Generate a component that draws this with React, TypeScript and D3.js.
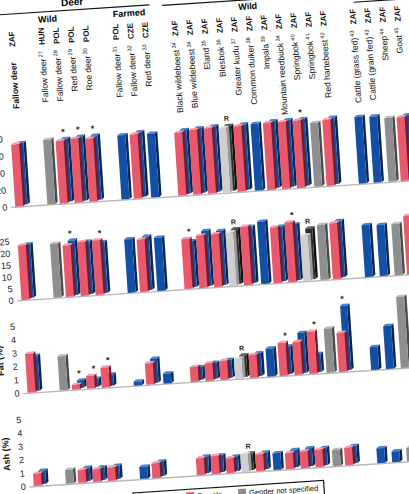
import React from "react";
import * as d3 from "d3";

// ---------- data ----------
const categories = [
  "Fallow deer", "Fallow deer", "Fallow deer", "Red deer", "Roe deer",
  "Fallow deer", "Fallow deer", "Red deer",
  "Black wildebeest", "Blue wildebeest", "Eland", "Blesbok", "Greater kudu",
  "Common duiker", "Impala", "Mountain reedbuck", "Springbok", "Springbok", "Red hartebeest",
  "Cattle (grass fed)", "Cattle (grain fed)", "Sheep", "Goat",
];
const refNumbers = ["", "27", "28", "29", "30", "31", "32", "33", "34", "34", "35", "36", "37", "38", "39", "34", "40", "41", "42", "43", "43", "44", "45"];
const countries = ["ZAF", "HUN", "POL", "POL", "POL", "POL", "CZE", "CZE", "ZAF", "ZAF", "ZAF", "ZAF", "ZAF", "ZAF", "ZAF", "ZAF", "ZAF", "ZAF", "ZAF", "ZAF", "ZAF", "ZAF", "ZAF"];
const groupIndex = [0, 1, 1, 1, 1, 2, 2, 2, 3, 3, 3, 3, 3, 3, 3, 3, 3, 3, 3, 4, 4, 4, 4];

const _ = null;
// Moisture (%)
const moistureFemale = [73, _, 73.5, 75, 74, _, 75.5, _, 74, 76, 77, _, 77, _, 78.5, 78.5, 79, _, 77.5, _, _, _, 75];
const moistureMale = [72.5, _, 74, 75.5, 75.5, 75.5, 76, 75, 75, 76, 77, _, 77, 78.5, 78.5, 78.5, 78.5, _, 78, 78.5, 78, _, 75];
const moistureUnspecified = [_, 76, _, _, _, _, _, _, _, _, _, _, _, _, _, _, _, 75, _, _, _, 75, _];
const moistureRLight = [_, _, _, _, _, _, _, _, _, _, _, 76, _, _, _, _, _, _, _, _, _, _, _];
const moistureRDark = [_, _, _, _, _, _, _, _, _, _, _, 76.5, _, _, _, _, _, _, _, _, _, _, _];
const moistureStars = [2, 3, 4, 16];
const moistureR = [11];

// Protein (%)
const proteinFemale = [23.1, _, 21.8, 22.8, 23.1, _, 22.2, _, 21.2, 22.2, 22.4, _, 24.7, _, 23.6, 25.3, _, _, 23.7, _, _, _, 24.7];
const proteinMale = [22.7, _, 23.1, 22.2, 21.6, 22.7, 22.7, 22.5, 19.5, 23.4, 23.0, _, 23.9, 26.4, 23.1, 23.7, _, _, 23.9, 22.0, 21.6, _, 24];
const proteinUnspecified = [_, 22.8, _, _, _, _, _, _, _, _, _, _, _, _, _, _, _, 23.3, _, _, _, 21.6, _];
const proteinRLight = [_, _, _, _, _, _, _, _, _, _, _, 22.7, _, _, _, _, 19.3, _, _, _, _, _, _];
const proteinRDark = [_, _, _, _, _, _, _, _, _, _, _, 23.3, _, _, _, _, 21.5, _, _, _, _, _, _];
const proteinStars = [2, 4, 8, 15];
const proteinR = [11, 16];

// Fat (%)
const fatFemale = [2.9, _, 0.35, 0.95, 1.5, _, 1.6, _, 1.1, 1.3, 1.4, _, 1.7, _, 2.45, 2.45, 3.15, _, 2.9, _, _, _, 2.2];
const fatMale = [2.6, _, 0.55, 0.6, 0.85, 0.3, 1.8, 0.75, 0.95, 1.2, 1.35, _, 1.7, 2.1, 2.05, 3.0, 1.35, _, 4.8, 1.7, 3.2, _, 2.4];
const fatUnspecified = [_, 2.55, _, _, _, _, _, _, _, _, _, _, _, _, _, _, _, 3.3, _, _, _, 5.3, _];
const fatRLight = [_, _, _, _, _, _, _, _, _, _, _, 1.5, _, _, _, _, _, _, _, _, _, _, _];
const fatRDark = [_, _, _, _, _, _, _, _, _, _, _, 1.6, _, _, _, _, _, _, _, _, _, _, _];
const fatStars = [2, 3, 4, 14, 16, 18];
const fatR = [11];

// Ash (%)
const ashFemale = [0.9, _, 0.95, 0.95, 1.0, _, 1.1, _, 1.25, 1.35, 1.1, _, 1.25, _, 1.2, 1.25, 1.3, _, 1.3, _, _, _, 1.2];
const ashMale = [1.0, _, 1.0, 0.95, 1.0, 0.9, 1.1, _, 1.25, 1.25, 1.1, _, 1.25, 1.25, 1.3, 1.35, 1.3, _, 1.3, 1.1, 0.8, _, 1.2];
const ashUnspecified = [_, 1.05, _, _, _, _, _, _, _, _, _, _, _, _, _, _, _, 1.2, _, _, _, 1.0, _];
const ashRLight = [_, _, _, _, _, _, _, _, _, _, _, 1.35, _, _, _, _, _, _, _, _, _, _, _];
const ashRDark = [_, _, _, _, _, _, _, _, _, _, _, 1.25, _, _, _, _, _, _, _, _, _, _, _];
const ashStars: number[] = [];
const ashR = [11];

const moistureTicks = [0, 20, 40, 60, 80];
const proteinTicks = [0, 5, 10, 15, 20, 25];
const fatTicks = [0, 1, 2, 3, 4, 5];
const ashTicks = [0, 1, 2, 3, 4, 5];

const legendItems = [
  { label: "Male", key: "male" },
  { label: "Female", key: "female" },
  { label: "Gender not specified", key: "unspecified" },
];

// ---------- styling ----------
const FONT = "'Liberation Sans', Arial, sans-serif";
const COLORS: Record<string, { front: string; top: string; side: string }> = {
  female: { front: "#ea586c", top: "#f5a0ab", side: "#6e1f2e" },
  male: { front: "#1250a6", top: "#4a7ed0", side: "#0a2552" },
  unspecified: { front: "#8e8e8e", top: "#bcbcbc", side: "#4a4a4a" },
  rLight: { front: "#cfcfcf", top: "#e6e6e6", side: "#9a9a9a" },
  rDark: { front: "#2e2e2e", top: "#5a5a5a", side: "#121212" },
};
const SW = 2.5; // side depth
const DY = 2; // top face rise

const panels = [
  { title: "Moisture (%)", ticks: moistureTicks, base: 194.5, top: 126.5, female: moistureFemale, male: moistureMale, unspecified: moistureUnspecified, rLight: moistureRLight, rDark: moistureRDark, stars: moistureStars, rMarks: moistureR },
  { title: "Protein (%)", ticks: proteinTicks, base: 288, top: 229, female: proteinFemale, male: proteinMale, unspecified: proteinUnspecified, rLight: proteinRLight, rDark: proteinRDark, stars: proteinStars, rMarks: proteinR },
  { title: "Fat (%)", ticks: fatTicks, base: 381, top: 314, female: fatFemale, male: fatMale, unspecified: fatUnspecified, rLight: fatRLight, rDark: fatRDark, stars: fatStars, rMarks: fatR },
  { title: "Ash (%)", ticks: ashTicks, base: 474.5, top: 407.5, female: ashFemale, male: ashMale, unspecified: ashUnspecified, rLight: ashRLight, rDark: ashRDark, stars: ashStars, rMarks: ashR },
];

const slotOf = (i: number) => i + groupIndex[i];
const x = d3.scaleLinear().domain([0, 26]).range([26, 412.4]);

function Bar3D({ x0, base, w, h, c }: { x0: number; base: number; w: number; h: number; c: { front: string; top: string; side: string } }) {
  const t = base - h;
  return (
    <g>
      <polygon points={`${x0 + w},${base} ${x0 + w},${t} ${x0 + w + SW},${t - DY} ${x0 + w + SW},${base - DY}`} fill={c.side} />
      <polygon points={`${x0},${t} ${x0 + w},${t} ${x0 + w + SW},${t - DY} ${x0 + SW},${t - DY}`} fill={c.top} />
      <rect x={x0} y={t} width={w} height={h} fill={c.front} />
    </g>
  );
}

function Panel({ p }: { p: (typeof panels)[number] }) {
  const max = p.ticks[p.ticks.length - 1];
  const y = d3.scaleLinear().domain([0, max]).range([p.base, p.top]);
  const hOf = (v: number) => p.base - y(v);
  const items: React.ReactNode[] = [];
  const tops: number[] = [];
  categories.forEach((_, i) => {
    const c = x(slotOf(i));
    const frontVal = p.female[i] ?? p.rLight[i];
    const frontKey = p.female[i] != null ? "female" : "rLight";
    const backVal = p.male[i] ?? p.rDark[i];
    const backKey = p.male[i] != null ? "male" : "rDark";
    let topY = p.base;
    if (frontVal != null && backVal != null) {
      const bb = p.base - 1.5;
      items.push(<Bar3D key={`b${i}`} x0={c - 2} base={bb} w={7} h={hOf(backVal)} c={COLORS[backKey]} />);
      items.push(<Bar3D key={`f${i}`} x0={c - 7.5} base={p.base} w={8} h={hOf(frontVal)} c={COLORS[frontKey]} />);
      topY = Math.min(bb - hOf(backVal) - DY, p.base - hOf(frontVal) - DY);
    } else {
      const v = frontVal ?? backVal ?? p.unspecified[i];
      const key = frontVal != null ? frontKey : backVal != null ? backKey : "unspecified";
      if (v != null) {
        items.push(<Bar3D key={`s${i}`} x0={c - 5} base={p.base} w={8} h={hOf(v)} c={COLORS[key]} />);
        topY = p.base - hOf(v) - DY;
      }
    }
    tops.push(topY);
  });
  return (
    <g>
      <line x1={14} x2={440} y1={p.base + 0.6} y2={p.base + 0.6} stroke="#b8b8b8" strokeWidth={1.4} />
      {p.ticks.map((t) => (
        <text key={t} x={10.5} y={y(t) + 3.2} textAnchor="end" fontSize={9} fontFamily={FONT} fill="#222">{t}</text>
      ))}
      <text transform={`translate(-4,${(p.base + p.top) / 2}) rotate(-90)`} textAnchor="middle" fontSize={9} fontWeight="bold" fontFamily={FONT} fill="#111">{p.title}</text>
      {items}
      {p.stars.map((i) => (
        <text key={`st${i}`} x={x(slotOf(i)) + 0.5} y={tops[i] - 2} textAnchor="middle" fontSize={9} fontWeight="bold" fontFamily={FONT} fill="#222">*</text>
      ))}
      {p.rMarks.map((i) => (
        <text key={`r${i}`} x={x(slotOf(i)) + 1} y={tops[i] - 3} textAnchor="middle" fontSize={7} fontWeight="bold" fontFamily={FONT} fill="#222">R</text>
      ))}
    </g>
  );
}

export default function App() {
  return (
    <svg width={409} height={494} style={{ position: "absolute", left: 0, top: 0, display: "block", background: "#fff" }}>
      <rect x={0} y={0} width={409} height={494} fill="#fff" />
      <g transform="rotate(-3.8 200 250)">
        {/* headers */}
        <text x={(x(0) - 14 + x(9) + 6) / 2} y={-2.5} textAnchor="middle" fontSize={10} fontWeight="bold" fontFamily={FONT}>Deer</text>
        <line x1={x(0) - 14} x2={x(9) + 6} y1={2} y2={2} stroke="#111" strokeWidth={1.2} />
        <line x1={x(11) - 11} x2={x(21) + 12} y1={3.5} y2={3.5} stroke="#111" strokeWidth={1.2} />
        <line x1={x(23) + 2} x2={x(26) + 14} y1={13} y2={13} stroke="#111" strokeWidth={1.2} />
        <text x={(x(0) + x(5)) / 2} y={12.5} textAnchor="middle" fontSize={9} fontWeight="bold" fontFamily={FONT}>Wild</text>
        <text x={x(8)} y={12} textAnchor="middle" fontSize={9} fontWeight="bold" fontFamily={FONT}>Farmed</text>
        <text x={x(16)} y={13} textAnchor="middle" fontSize={9} fontWeight="bold" fontFamily={FONT}>Wild</text>
        {/* category labels */}
        {categories.map((name, i) => {
          const c = x(slotOf(i));
          const first = i === 0;
          return (
            <g key={`lab${i}`}>
              <text transform={`translate(${c + 3},35) rotate(-90)`} fontSize={8} fontWeight="bold" fontFamily={FONT} fill="#111">{countries[i]}</text>
              <text
                transform={`translate(${c + 3},${first ? 97 : 41}) rotate(-90)`}
                textAnchor={first ? "start" : "end"}
                fontSize={8.5}
                fontWeight={first ? "bold" : "normal"}
                fontFamily={FONT}
                fill="#111"
              >
                {name}
                {refNumbers[i] ? <tspan fontSize={5.5} dx={1.5} dy={-3}>{refNumbers[i]}</tspan> : null}
              </text>
            </g>
          );
        })}
        {panels.map((p) => <Panel key={p.title} p={p} />)}
        {/* legend */}
        <rect x={117} y={488} width={191} height={20} fill="#fff" stroke="#111" strokeWidth={1.2} />
        {legendItems.map((it, k) => {
          const lx = [126, 170, 222][k];
          return (
            <g key={it.key}>
              <rect x={lx} y={491} width={8} height={8} fill={COLORS[it.key].front} />
              <text x={lx + 11} y={498} fontSize={7.5} fontFamily={FONT} fill="#111">{it.label}</text>
            </g>
          );
        })}
      </g>
    </svg>
  );
}
